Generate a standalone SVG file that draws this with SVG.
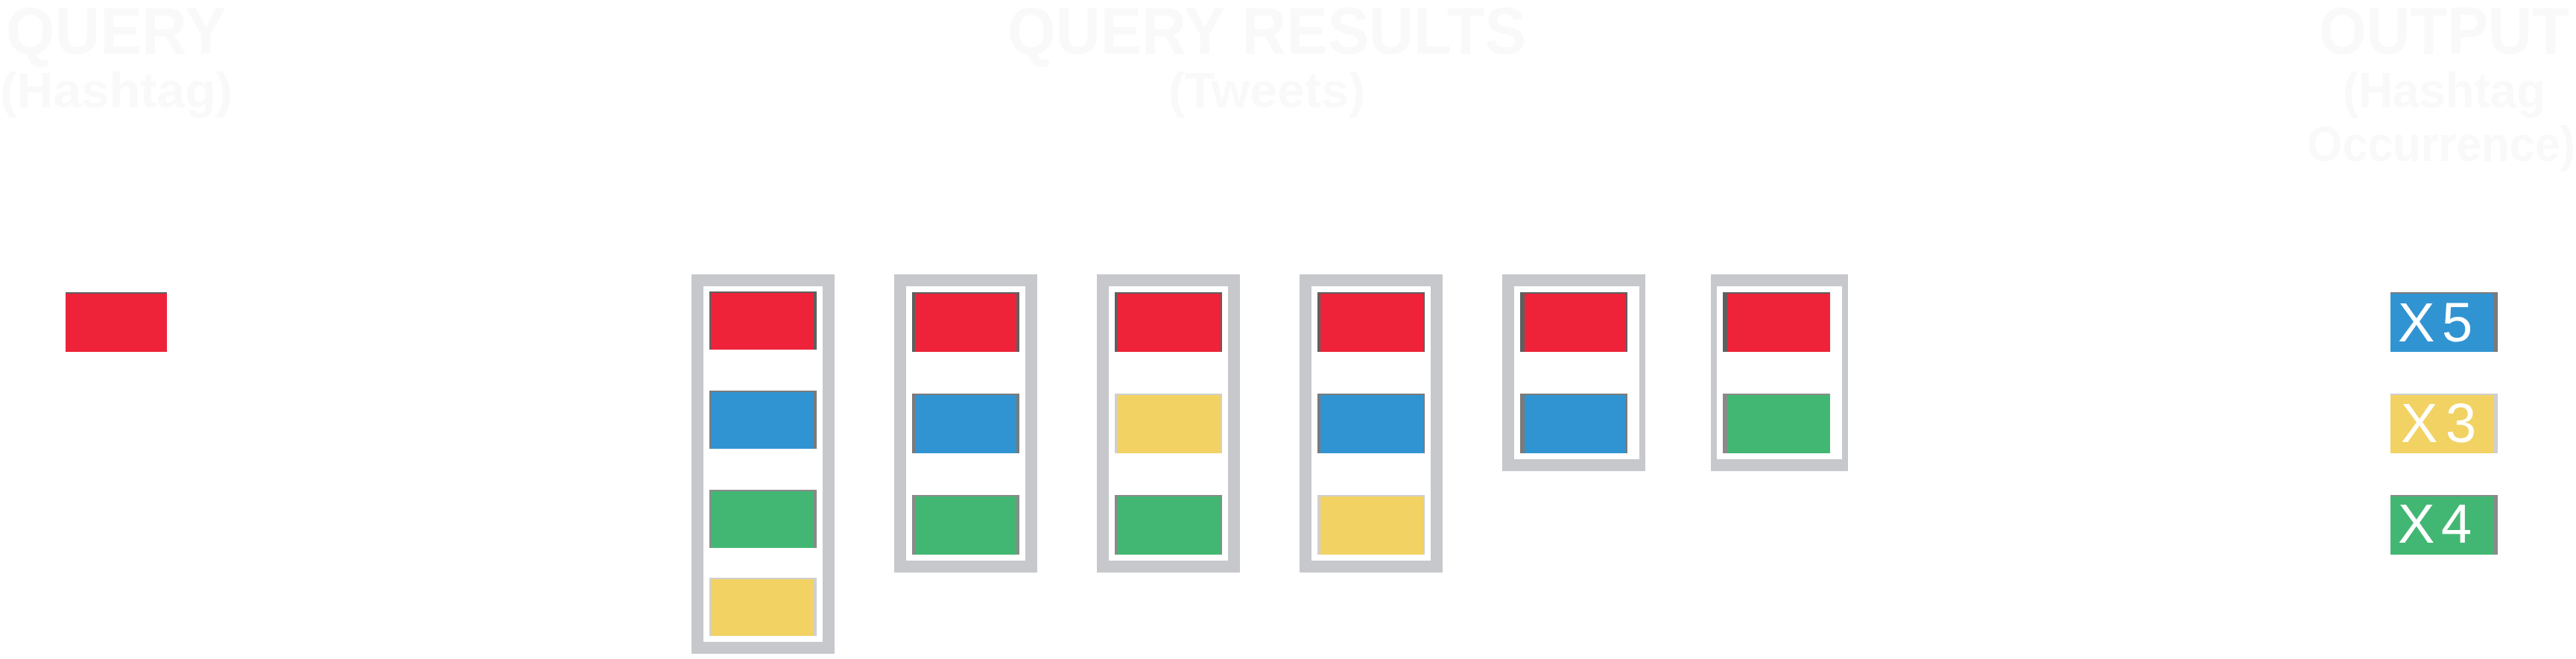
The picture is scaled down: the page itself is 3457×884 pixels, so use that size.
<svg xmlns="http://www.w3.org/2000/svg" width="3457" height="884" viewBox="0 0 3457 884">
<style>
.hd{font-family:"Liberation Sans",Arial,sans-serif;font-weight:900;fill:#f9f9f9;}
.h1{font-size:89px;}
.h2{font-size:66px;}
.frame{fill:#c6c8cc;}
.inner{fill:#ffffff;}
.r{fill:#ee2339;} .b{fill:#3194d2;} .g{fill:#42b773;} .y{fill:#f2d262;}
.ur{fill:#5f5f5f;} .ub{fill:#7a7a7a;} .ug{fill:#8a8a8a;} .uy{fill:#cfcfcf;}
.cnt{font-family:"Liberation Sans",Arial,sans-serif;font-size:74px;fill:#ffffff;}
</style>
<rect width="3457" height="884" fill="#ffffff"/>

<g id="heading-query">
<text class="hd h1" x="8" y="72" textLength="296" lengthAdjust="spacingAndGlyphs">QUERY</text>
<text class="hd h2" x="0" y="144" textLength="312" lengthAdjust="spacingAndGlyphs">(Hashtag)</text>
</g>
<g id="heading-results">
<text class="hd h1" x="1352" y="72" textLength="696" lengthAdjust="spacingAndGlyphs">QUERY RESULTS</text>
<text class="hd h2" x="1568" y="144" textLength="264" lengthAdjust="spacingAndGlyphs">(Tweets)</text>
</g>
<g id="heading-output">
<text class="hd h1" x="3112" y="72" textLength="336" lengthAdjust="spacingAndGlyphs">OUTPUT</text>
<text class="hd h2" x="3144" y="144" textLength="272" lengthAdjust="spacingAndGlyphs">(Hashtag</text>
<text class="hd h2" x="3096" y="216" textLength="360" lengthAdjust="spacingAndGlyphs">Occurrence)</text>
</g>

<g id="query">
<rect class="ur" x="88" y="392" width="136" height="80"/>
<rect class="r" x="88" y="394" width="136" height="78"/>
</g>

<g id="tweet1">
<rect class="frame" x="928" y="368" width="192" height="509"/>
<rect class="inner" x="944" y="384" width="160" height="477"/>
<rect class="ur" x="952" y="391" width="144" height="78"/><rect class="r" x="954" y="393" width="138" height="76"/>
<rect class="ub" x="952" y="524" width="144" height="78"/><rect class="b" x="954" y="526" width="138" height="76"/>
<rect class="ug" x="952" y="657" width="144" height="78"/><rect class="g" x="954" y="659" width="138" height="76"/>
<rect class="uy" x="952" y="775" width="144" height="78"/><rect class="y" x="954" y="777" width="138" height="76"/>
</g>

<g id="tweet2">
<rect class="frame" x="1200" y="368" width="192" height="400"/>
<rect class="inner" x="1216" y="384" width="160" height="368"/>
<rect class="ur" x="1224" y="392" width="144" height="80"/><rect class="r" x="1228" y="394" width="136" height="78"/>
<rect class="ub" x="1224" y="528" width="144" height="80"/><rect class="b" x="1228" y="530" width="136" height="78"/>
<rect class="ug" x="1224" y="664" width="144" height="80"/><rect class="g" x="1228" y="666" width="136" height="78"/>
</g>

<g id="tweet3">
<rect class="frame" x="1472" y="368" width="192" height="400"/>
<rect class="inner" x="1488" y="384" width="160" height="368"/>
<rect class="ur" x="1496" y="392" width="144" height="80"/><rect class="r" x="1500" y="394" width="138" height="78"/>
<rect class="uy" x="1496" y="528" width="144" height="80"/><rect class="y" x="1500" y="530" width="138" height="78"/>
<rect class="ug" x="1496" y="664" width="144" height="80"/><rect class="g" x="1500" y="666" width="138" height="78"/>
</g>

<g id="tweet4">
<rect class="frame" x="1744" y="368" width="192" height="400"/>
<rect class="inner" x="1760" y="384" width="160" height="368"/>
<rect class="ur" x="1768" y="392" width="144" height="80"/><rect class="r" x="1772" y="394" width="138" height="78"/>
<rect class="ub" x="1768" y="528" width="144" height="80"/><rect class="b" x="1772" y="530" width="138" height="78"/>
<rect class="uy" x="1768" y="664" width="144" height="80"/><rect class="y" x="1772" y="666" width="138" height="78"/>
</g>

<g id="tweet5">
<rect class="frame" x="2016" y="368" width="192" height="264"/>
<rect class="inner" x="2032" y="384" width="168" height="232"/>
<rect class="ur" x="2040" y="392" width="144" height="80"/><rect class="r" x="2046" y="394" width="136" height="78"/>
<rect class="ub" x="2040" y="528" width="144" height="80"/><rect class="b" x="2046" y="530" width="136" height="78"/>
</g>

<g id="tweet6">
<rect class="frame" x="2296" y="368" width="184" height="264"/>
<rect class="inner" x="2304" y="384" width="168" height="232"/>
<rect class="ur" x="2312" y="392" width="144" height="80"/><rect class="r" x="2318" y="394" width="138" height="78"/>
<rect class="ug" x="2312" y="528" width="144" height="80"/><rect class="g" x="2318" y="530" width="138" height="78"/>
</g>

<g id="out-blue">
<rect class="ub" x="3208" y="392" width="144" height="80"/><rect class="b" x="3208" y="394" width="138" height="78"/>
<text class="cnt" y="458"><tspan x="3218">X</tspan> <tspan x="3277">5</tspan></text>
</g>
<g id="out-yellow">
<rect class="uy" x="3208" y="528" width="144" height="80"/><rect class="y" x="3208" y="530" width="138" height="78"/>
<text class="cnt" y="593"><tspan x="3222">X</tspan> <tspan x="3282">3</tspan></text>
</g>
<g id="out-green">
<rect class="ug" x="3208" y="664" width="144" height="80"/><rect class="g" x="3208" y="666" width="138" height="78"/>
<text class="cnt" y="728"><tspan x="3218">X</tspan> <tspan x="3276">4</tspan></text>
</g>

<g id="connectors"></g>
</svg>
